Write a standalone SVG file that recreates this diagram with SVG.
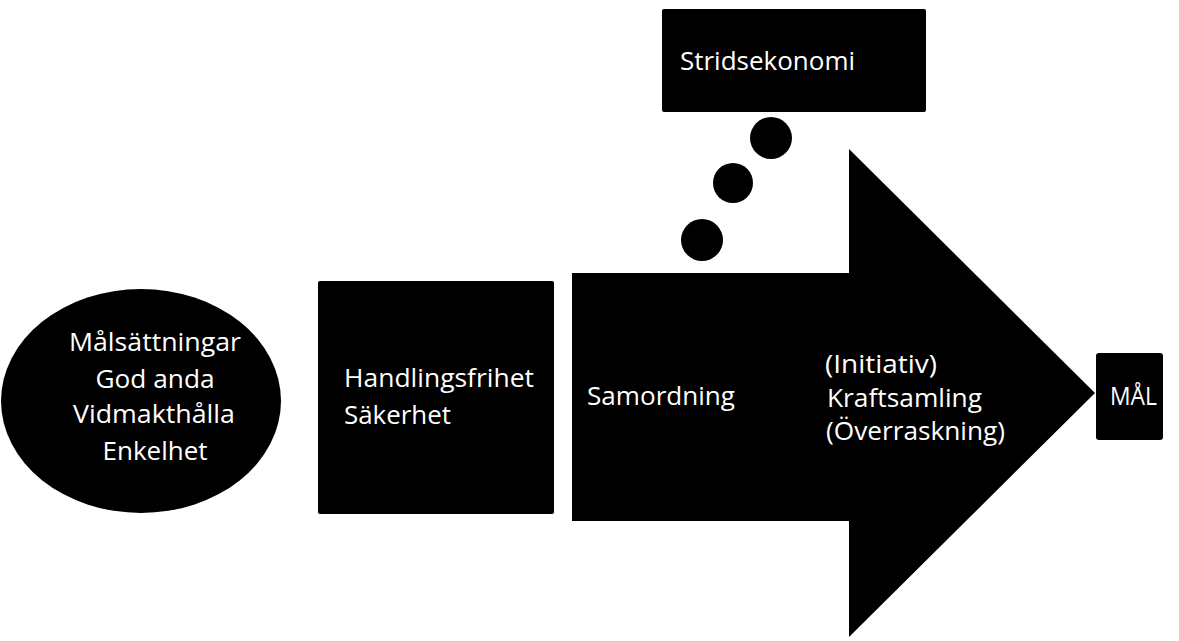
<svg xmlns="http://www.w3.org/2000/svg" width="1179" height="641" viewBox="0 0 1179 641">
<style>
.s{fill:#000}
.t{fill:#fff;font-family:"Open Sans","Noto Sans","Liberation Sans",sans-serif;font-size:26px}
.c{text-anchor:middle}
</style>
<rect width="1179" height="641" fill="#fff"/>
<g id="principer">
<ellipse class="s" cx="141" cy="401" rx="140" ry="112"/>
<text class="t c" x="155" y="351" textLength="172" lengthAdjust="spacingAndGlyphs">Målsättningar</text>
<text class="t c" x="155" y="388" textLength="119" lengthAdjust="spacingAndGlyphs">God anda</text>
<text class="t c" x="154" y="423" textLength="162" lengthAdjust="spacingAndGlyphs">Vidmakthålla</text>
<text class="t c" x="155" y="460" textLength="105" lengthAdjust="spacingAndGlyphs">Enkelhet</text>
</g>
<g id="handlingsfrihet">
<rect class="s" x="318" y="281" width="236" height="233" rx="2"/>
<text class="t" x="344" y="387" textLength="190" lengthAdjust="spacingAndGlyphs">Handlingsfrihet</text>
<text class="t" x="344" y="424" textLength="107" lengthAdjust="spacingAndGlyphs">Säkerhet</text>
</g>
<g id="pil">
<polygon class="s" points="572,273 849,273 849,149 1095,393 849,637 849,521 572,521"/>
<text class="t" x="587" y="405" textLength="148" lengthAdjust="spacingAndGlyphs">Samordning</text>
<text class="t" x="825" y="373" textLength="112" lengthAdjust="spacingAndGlyphs">(Initiativ)</text>
<text class="t" x="827" y="407" textLength="155" lengthAdjust="spacingAndGlyphs">Kraftsamling</text>
<text class="t" x="826" y="440" textLength="179" lengthAdjust="spacingAndGlyphs">(Överraskning)</text>
</g>
<g id="stridsekonomi">
<rect class="s" x="662" y="9" width="264" height="103" rx="2"/>
<text class="t" x="680" y="70" textLength="175" lengthAdjust="spacingAndGlyphs">Stridsekonomi</text>
</g>
<g id="mal">
<rect class="s" x="1096" y="353" width="67" height="87" rx="3"/>
<text class="t" x="1110" y="405" textLength="47" lengthAdjust="spacingAndGlyphs">MÅL</text>
</g>
<g id="connectors">
<circle class="s" cx="771" cy="138" r="21"/>
<circle class="s" cx="733" cy="183" r="20"/>
<circle class="s" cx="702" cy="240" r="21"/>
</g>
</svg>
